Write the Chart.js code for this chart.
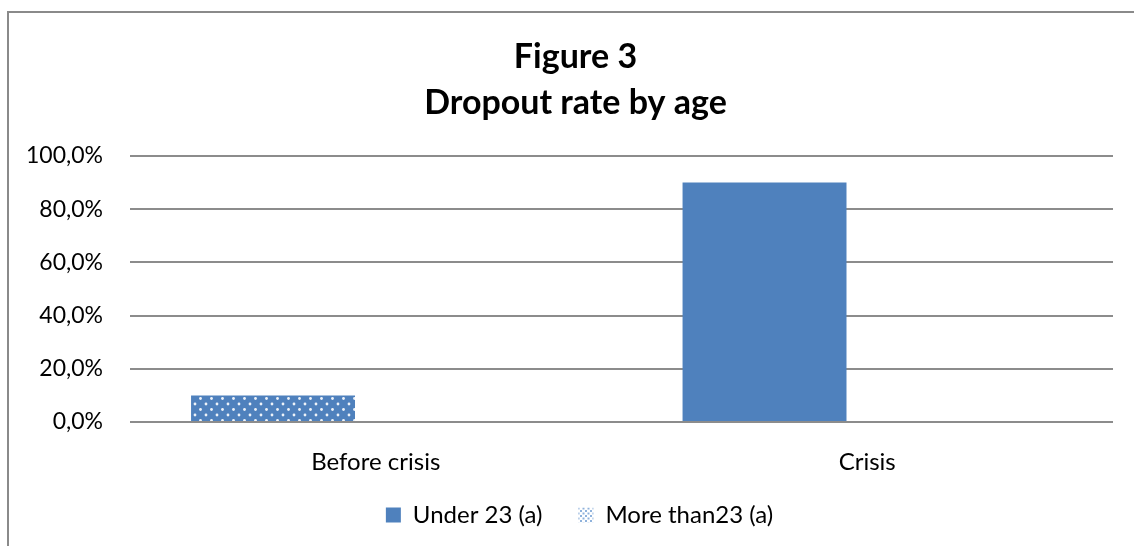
<!DOCTYPE html>
<html>
<head>
<meta charset="utf-8">
<title>Dropout rate by age</title>
<script src="https://cdn.jsdelivr.net/npm/chart.js@4/dist/chart.umd.min.js"></script>
<style>
  html, body { margin: 0; padding: 0; background: #fff; overflow: hidden; }
  #frame { position: absolute; left: 7px; top: 11px; width: 1200px; height: 600px; border-left: 2px solid #8a8a8a; border-top: 2px solid #8a8a8a; }
  #wrap { position: absolute; left: 0; top: 0; width: 1134px; height: 546px; }
</style>
</head>
<body>
<div id="frame"></div>
<div id="wrap"><canvas id="chart"></canvas></div>
<script>
const categories = ['Before crisis', 'Crisis'];
const under23 = [10, 90];
const moreThan23 = [0, 0];
const yTicks = [0, 20, 40, 60, 80, 100];

const blue = '#4F81BD';

// white dots on blue, used for the "Before crisis" bar
function dotPattern(bg, dot) {
  const c = document.createElement('canvas');
  c.width = 11; c.height = 11;
  const g = c.getContext('2d');
  g.fillStyle = bg;
  g.fillRect(0, 0, 11, 11);
  g.fillStyle = dot;
  [[2.5, 2.5], [8, 8]].forEach(p => {
    g.beginPath();
    g.arc(p[0], p[1], 1.4, 0, Math.PI * 2);
    g.fill();
  });
  return document.getElementById('chart').getContext('2d').createPattern(c, 'repeat');
}

function legendPattern() {
  const c = document.createElement('canvas');
  c.width = 5; c.height = 5;
  const g = c.getContext('2d');
  g.fillStyle = '#fff';
  g.fillRect(0, 0, 5, 5);
  g.fillStyle = '#8fb2dc';
  g.fillRect(0, 0, 2, 2);
  g.fillRect(2.5, 2.5, 2, 2);
  return document.getElementById('chart').getContext('2d').createPattern(c, 'repeat');
}

const barDots = dotPattern(blue, 'rgba(255,255,255,0.9)');
const legendDots = legendPattern();

// fixed legend strip so the plot area lines up; title and legend sit a bit right of the plot centre
const nudge = {
  id: 'nudge',
  beforeLayout(chart) {
    const lg = chart.legend;
    if (lg && !lg._fixed) {
      const fit = lg.fit;
      lg.fit = function () { fit.call(this); this.height = 69; };
      lg._fixed = true;
    }
  },
  afterLayout(chart) {
    const lg = chart.legend;
    if (lg) { lg.top -= 10; lg.left += 23; lg.right += 23; }
    const t = chart.titleBlock;
    if (t) { t.left += 19; t.right += 19; }
  }
};

Chart.defaults.font.family = 'Lato, "Noto Sans", sans-serif';
Chart.defaults.color = '#000';

new Chart(document.getElementById('chart'), {
  type: 'bar',
  data: {
    labels: categories,
    datasets: [
      {
        label: 'Under 23 (a)',
        data: under23,
        backgroundColor: [barDots, blue],
        borderWidth: 0,
        categoryPercentage: 0.836,
        barPercentage: 0.798
      },
      {
        label: 'More than23 (a)',
        data: moreThan23,
        backgroundColor: barDots,
        borderWidth: 0,
        categoryPercentage: 0.836,
        barPercentage: 0.798
      }
    ]
  },
  plugins: [nudge],
  options: {
    responsive: true,
    maintainAspectRatio: false,
    animation: false,
    layout: { padding: { left: 0, right: 21, top: 0, bottom: 0 } },
    plugins: {
      title: {
        display: true,
        text: ['Figure 3', 'Dropout rate by age'],
        color: '#000',
        font: { size: 34, weight: 'bold', lineHeight: '46px' },
        padding: { top: 34, bottom: 30 }
      },
      legend: {
        position: 'bottom',
        labels: {
          boxWidth: 15,
          boxHeight: 15,
          font: { size: 24 },
          padding: 36,
          generateLabels: function (chart) {
            return chart.data.datasets.map((ds, i) => ({
              text: ds.label,
              fillStyle: i === 0 ? blue : legendDots,
              strokeStyle: 'rgba(0,0,0,0)',
              lineWidth: 0,
              hidden: false,
              datasetIndex: i
            }));
          }
        }
      },
      tooltip: { enabled: false }
    },
    scales: {
      x: {
        afterFit: function (s) { s.height = 55; },
        grid: { display: false },
        border: { display: false },
        ticks: { font: { size: 24 }, color: '#000', padding: 18 }
      },
      y: {
        min: 0,
        max: 100,
        afterFit: function (s) { s.width = 130; },
        afterBuildTicks: function (s) { s.ticks = yTicks.map(v => ({ value: v })); },
        border: { display: false },
        grid: { color: '#8c8c8c', lineWidth: 2, drawTicks: false },
        ticks: {
          font: { size: 23 },
          color: '#000',
          padding: 27,
          callback: v => v.toFixed(1).replace('.', ',') + '%'
        }
      }
    }
  }
});
</script>
</body>
</html>
